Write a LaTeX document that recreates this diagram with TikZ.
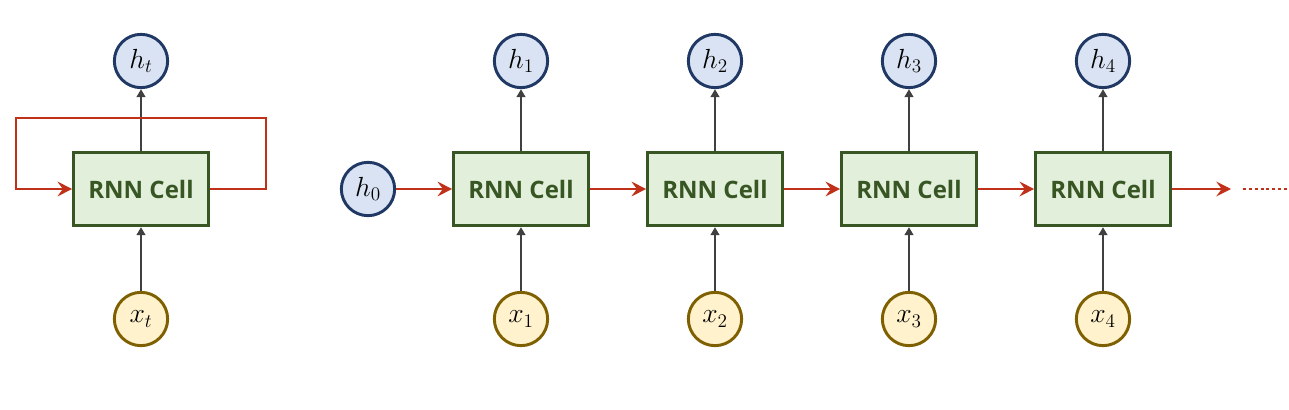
\documentclass[tikz,border=0pt]{standalone}
\usepackage{amsmath}
\usepackage{fontspec}
\setsansfont{Open Sans}
\usetikzlibrary{arrows.meta}

\definecolor{hfill}{HTML}{DAE3F3}
\definecolor{hdraw}{HTML}{1F3864}
\definecolor{xfill}{HTML}{FFF2CC}
\definecolor{xdraw}{HTML}{7F6000}
\definecolor{cfill}{HTML}{E2EFDA}
\definecolor{cdraw}{HTML}{375623}
\definecolor{loopred}{HTML}{C0311A}
\definecolor{wire}{HTML}{404040}

\tikzset{
	hstate/.style={circle, draw=hdraw, fill=hfill, line width=2.2pt, minimum size=40pt, inner sep=0pt, font=\huge},
	xinput/.style={circle, draw=xdraw, fill=xfill, line width=2.2pt, minimum size=40pt, inner sep=0pt, font=\huge},
	cellbox/.style={draw=cdraw, fill=cfill, line width=2.2pt, minimum width=101pt, minimum height=55pt, inner sep=0pt,
		text=cdraw, font=\sffamily\bfseries\fontsize{18}{21}\selectfont},
	wirearrow/.style={draw=wire, line width=2.2pt, -{Triangle[length=6pt, width=6.5pt]}},
	redarrow/.style={draw=loopred, line width=2.2pt, -{Stealth[length=11pt, width=11pt, inset=4pt]}},
}

\begin{document}
\begin{tikzpicture}[x=0.75pt, y=-0.75pt]
	\useasboundingbox (0,0) rectangle (1289,410);
	% folded cell
	\node[cellbox] (cellt) at (141,189) {RNN Cell};
	\node[hstate] (ht) at (141,61) {$h_t$};
	\node[xinput] (xt) at (141,319) {$x_t$};
	\draw[wirearrow] (cellt) -- (ht);
	\draw[wirearrow] (xt) -- (cellt);
	\coordinate (loopr) at (266,118);
	\coordinate (loopl) at (16,118);
	\draw[redarrow] (cellt.east) -| (loopr) -- (loopl) |- (cellt.west);
	% unrolled cells
	\node[hstate] (h0) at (368,189) {$h_0$};
	\foreach \i/\x in {1/521, 2/715, 3/909, 4/1103} {
		\node[cellbox] (cell\i) at (\x,189) {RNN Cell};
		\node[hstate] (h\i) at (\x,61) {$h_\i$};
		\node[xinput] (x\i) at (\x,319) {$x_\i$};
		\draw[wirearrow] (cell\i) -- (h\i);
		\draw[wirearrow] (x\i) -- (cell\i);
	}
	\draw[redarrow] (h0) -- (cell1);
	\foreach \i/\j in {1/2, 2/3, 3/4} {\draw[redarrow] (cell\i) -- (cell\j);}
	\coordinate (tail) at (1231,189);
	\draw[redarrow] (cell4) -- (tail);
	\coordinate (dotsa) at (1243,189);
	\coordinate (dotsb) at (1289,189);
	\draw[loopred, line width=2.2pt, dash pattern=on 2.2pt off 2.2pt] (dotsa) -- (dotsb);
\end{tikzpicture}
\end{document}
